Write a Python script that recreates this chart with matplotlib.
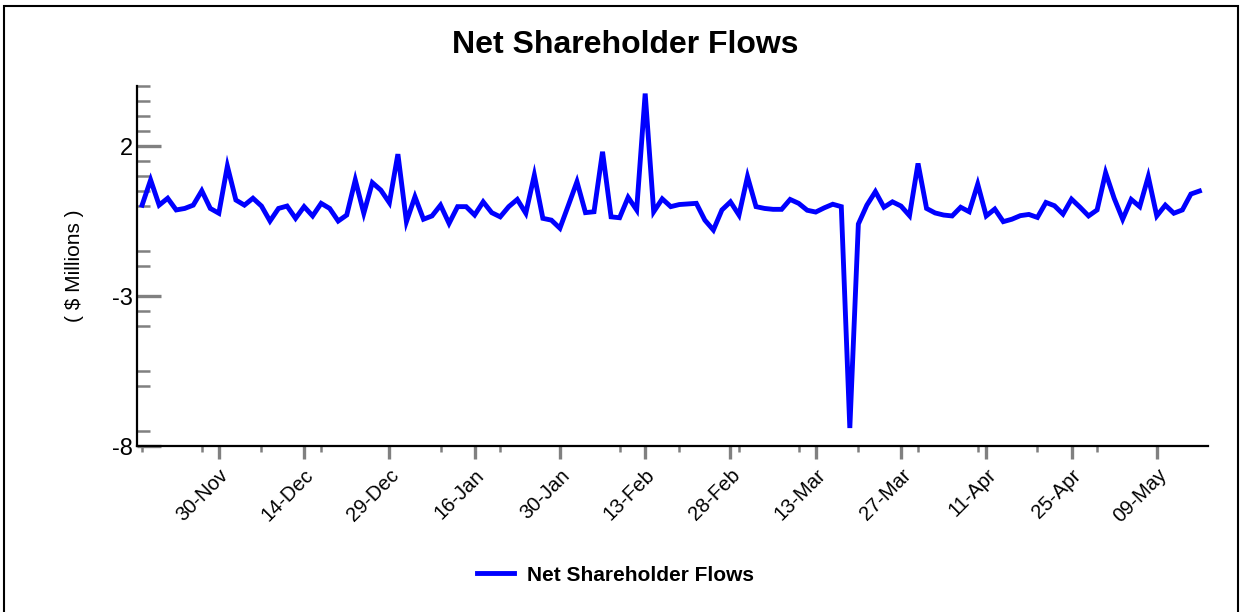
import matplotlib
matplotlib.use("Agg")
import matplotlib.pyplot as plt
from matplotlib.patches import Rectangle

plt.rcParams['font.family'] = ['Liberation Sans', 'DejaVu Sans']

# daily net flows, $ millions
flows = [
    0.03, 0.87, 0.03, 0.26, -0.13, -0.08, 0.03, 0.51, -0.08, -0.24,
    1.33, 0.20, 0.03, 0.26, 0.00, -0.50, -0.08, 0.00, -0.41, -0.02,
    -0.33, 0.09, -0.08, -0.50, -0.30, 0.87, -0.24, 0.78, 0.53, 0.11,
    1.73, -0.52, 0.31, -0.44, -0.33, 0.03, -0.58, -0.02, -0.02, -0.30,
    0.14, -0.22, -0.36, -0.02, 0.22, -0.24, 1.03, -0.41, -0.47, -0.74,
    0.03, 0.81, -0.22, -0.19, 1.81, -0.36, -0.39, 0.29, -0.13, 3.75,
    -0.19, 0.24, -0.02, 0.05, 0.07, 0.09, -0.47, -0.80, -0.13, 0.14,
    -0.30, 0.98, -0.02, -0.08, -0.11, -0.11, 0.22, 0.09, -0.14, -0.20,
    -0.06, 0.06, -0.02, -7.40, -0.60, 0.03, 0.48, -0.04, 0.14, 0.00,
    -0.32, 1.42, -0.08, -0.23, -0.30, -0.33, -0.04, -0.19, 0.73, -0.33,
    -0.10, -0.52, -0.44, -0.32, -0.28, -0.38, 0.12, 0.01, -0.27, 0.23,
    -0.04, -0.33, -0.13, 1.11, 0.26, -0.44, 0.22, -0.02, 0.98, -0.33,
    0.03, -0.24, -0.13, 0.40, 0.50,
]
days = list(range(len(flows)))

date_labels = ['30-Nov', '14-Dec', '29-Dec', '16-Jan', '30-Jan', '13-Feb',
               '28-Feb', '13-Mar', '27-Mar', '11-Apr', '25-Apr', '09-May']
date_idx = [9, 19, 29, 39, 49, 59, 69, 79, 89, 99, 109, 119]
minor_idx = [0, 7, 14, 21, 35, 42, 56, 63, 70, 77, 84, 91, 98, 105, 112]

y_major = [2, -3, -8]
y_minor = [4, 3.5, 3, 2.5, 1.5, 1, 0.5, 0, -1.5, -2, -3.5, -4, -5.5, -6, -7.5]

fig = plt.figure(figsize=(12.43, 6.12), dpi=100)
ax = fig.add_axes([0.1102, 0.2712, 0.8616, 0.5882])

ax.plot(days, flows, color='#0000ff', lw=3.5, label='Net Shareholder Flows',
        solid_joinstyle='miter', zorder=3)

ax.set_xlim(-0.6, 125)
ax.set_ylim(-8, 4)

for side in ['top', 'right']:
    ax.spines[side].set_visible(False)
for side in ['left', 'bottom']:
    ax.spines[side].set_linewidth(1.6)
    ax.spines[side].set_zorder(4)

ax.set_yticks(y_major)
ax.set_yticklabels([str(v) for v in y_major], fontsize=17)
ax.set_yticks(y_minor, minor=True)
ax.tick_params(axis='y', which='major', direction='in', length=17, width=2.4,
               color='#808080', pad=3)
ax.tick_params(axis='y', which='minor', direction='in', length=9, width=1.8,
               color='#808080')

ax.set_xticks(date_idx)
ax.set_xticklabels(date_labels, fontsize=14.5, rotation=45, ha='right',
                   va='top', rotation_mode='anchor')
ax.set_xticks(minor_idx, minor=True)
ax.tick_params(axis='x', which='major', direction='out', length=9, width=2.4,
               color='#808080', pad=5)
ax.tick_params(axis='x', which='minor', direction='out', length=4, width=1.8,
               color='#808080')

fig.text(0.503, 0.926, 'Net Shareholder Flows', ha='center', va='center',
         fontsize=23, fontweight='bold')
fig.text(0.060, 0.565, '( $ Millions )', ha='center', va='center',
         rotation=90, fontsize=15)

fig.legend(loc='center', bbox_to_anchor=(0.495, 0.06), frameon=False,
           prop={'size': 15, 'weight': 'bold'}, handlelength=1.8,
           handletextpad=0.6)

# thin frame round the whole picture
fig.patches.append(Rectangle((4 / 1243, -0.1), 1234 / 1243, 1.1 - 6 / 612,
                             transform=fig.transFigure, fill=False,
                             edgecolor='black', lw=1.5))

plt.savefig('out.png', dpi=100)
